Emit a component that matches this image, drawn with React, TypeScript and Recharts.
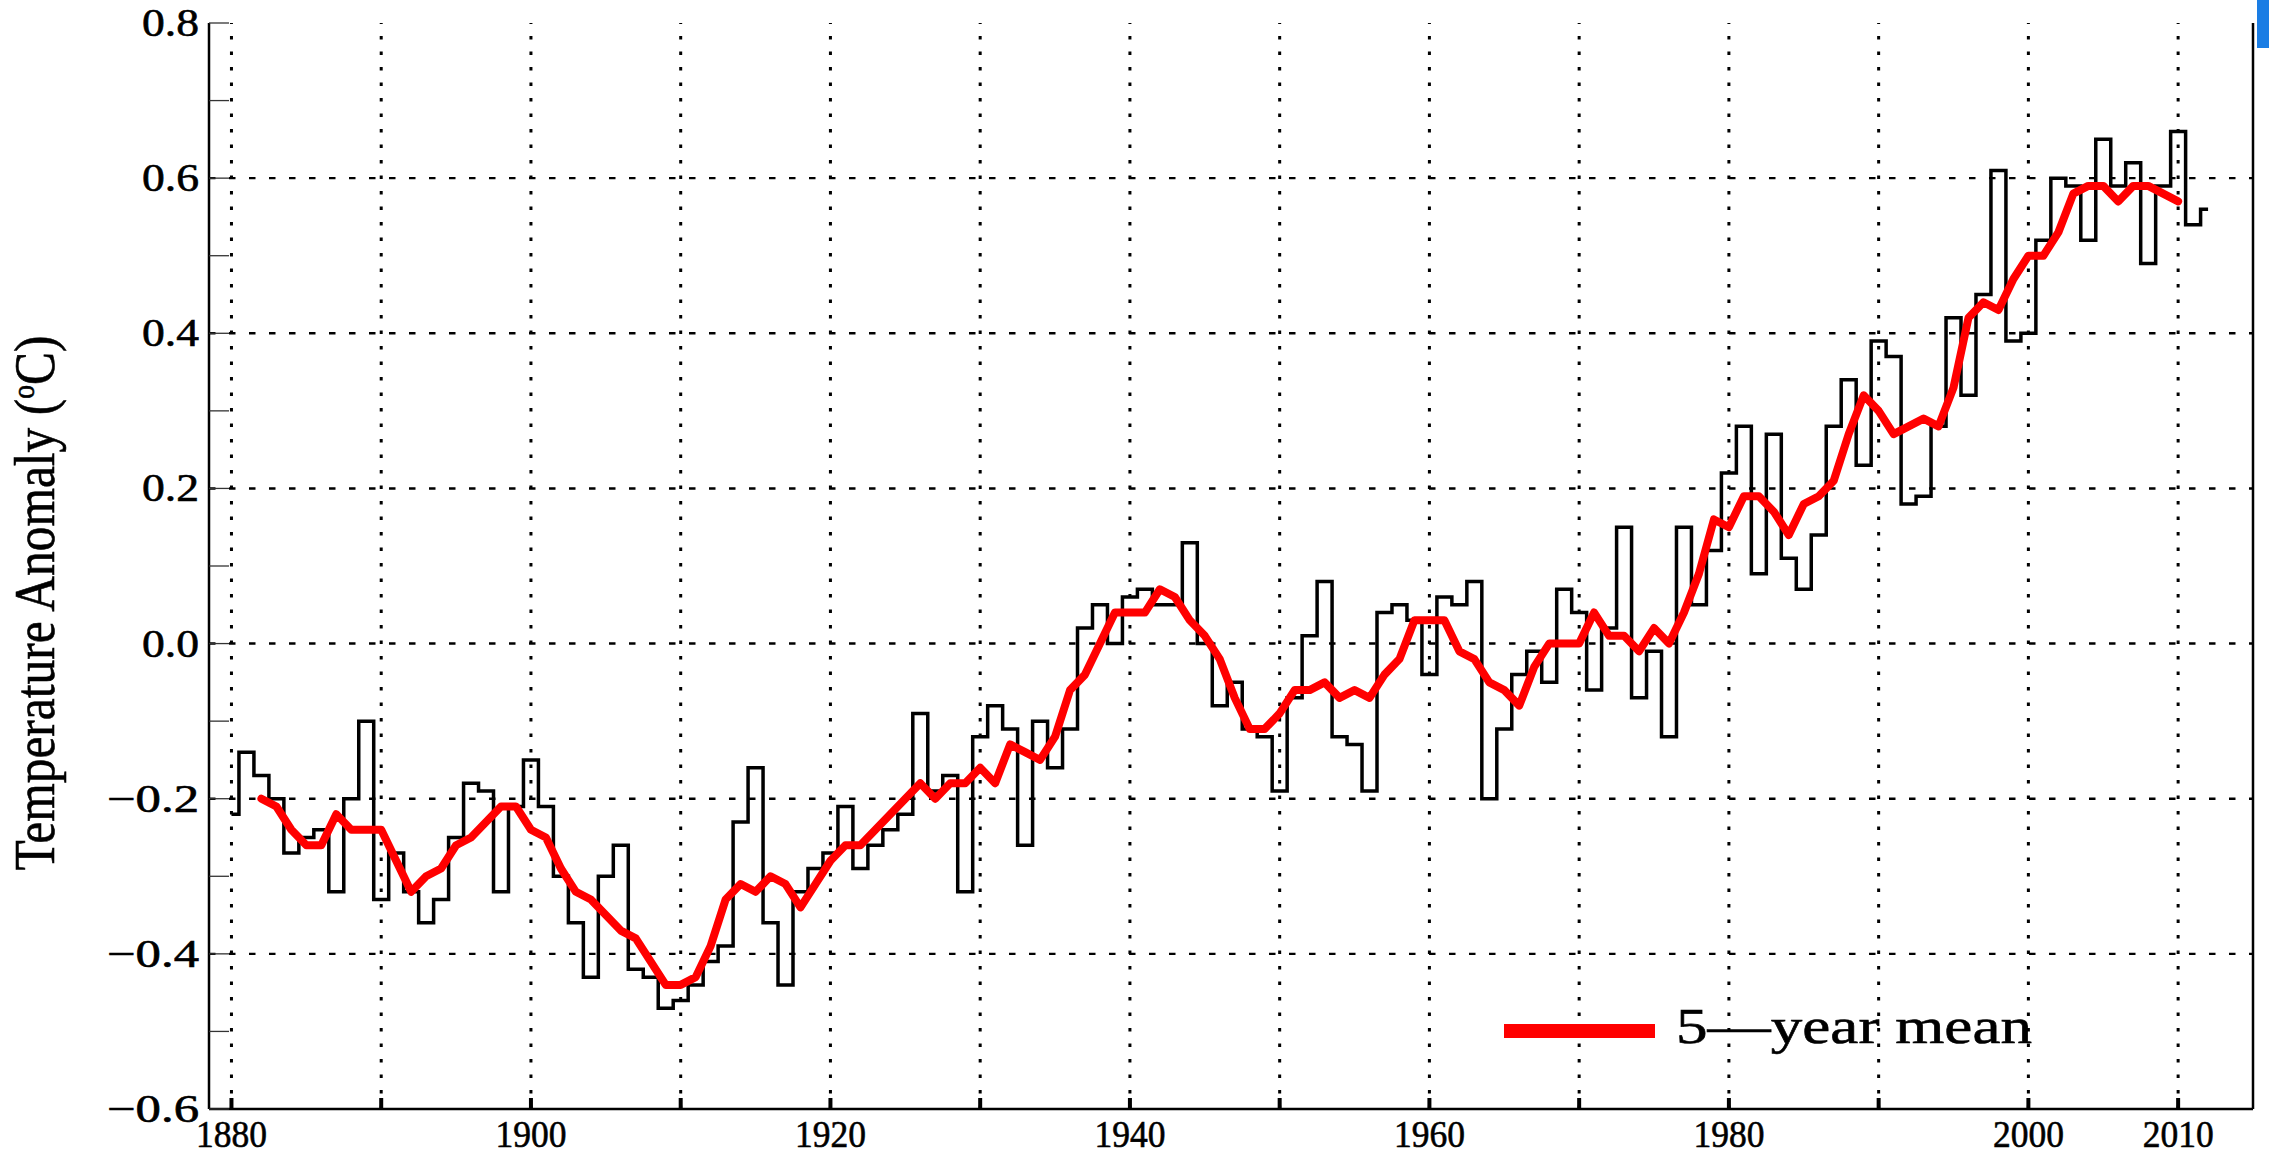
import React from "react";
import { ComposedChart, Line, XAxis, YAxis, ReferenceLine, Legend, Label } from "recharts";

// Annual global temperature anomaly, 1880-2012 (°C)
const FIRST_YEAR = 1880;
const ANNUAL = [
  -0.22, -0.14, -0.17, -0.2, -0.27, -0.25, -0.24, -0.32, -0.2, -0.1,
  -0.33, -0.27, -0.32, -0.36, -0.33, -0.25, -0.18, -0.19, -0.32, -0.21,
  -0.15, -0.21, -0.3, -0.36, -0.43, -0.3, -0.26, -0.42, -0.43, -0.47,
  -0.46, -0.44, -0.41, -0.39, -0.23, -0.16, -0.36, -0.44, -0.32, -0.29,
  -0.27, -0.21, -0.29, -0.26, -0.24, -0.22, -0.09, -0.19, -0.17, -0.32,
  -0.12, -0.08, -0.11, -0.26, -0.1, -0.16, -0.11, 0.02, 0.05, 0.0,
  0.06, 0.07, 0.05, 0.05, 0.13, 0.0, -0.08, -0.05, -0.11, -0.12,
  -0.19, -0.07, 0.01, 0.08, -0.12, -0.13, -0.19, 0.04, 0.05, 0.03,
  -0.04, 0.06, 0.05, 0.08, -0.2, -0.11, -0.04, -0.01, -0.05, 0.07,
  0.04, -0.06, 0.02, 0.15, -0.07, -0.01, -0.12, 0.15, 0.05, 0.12,
  0.22, 0.28, 0.09, 0.27, 0.11, 0.07, 0.14, 0.28, 0.34, 0.23,
  0.39, 0.37, 0.18, 0.19, 0.28, 0.42, 0.32, 0.45, 0.61, 0.39,
  0.4, 0.52, 0.6, 0.59, 0.52, 0.65, 0.59, 0.62, 0.49, 0.59,
  0.66, 0.54, 0.56,
];

// centred 5-year running mean, 1882-2010
const MEAN_FIRST_YEAR = 1882;
const MEAN_5YR = [
  -0.2, -0.21, -0.24, -0.26, -0.26, -0.22, -0.24, -0.24,
  -0.24, -0.28, -0.32, -0.3, -0.29, -0.26, -0.25, -0.23, -0.21, -0.21,
  -0.24, -0.25, -0.29, -0.32, -0.33, -0.35, -0.37, -0.38, -0.41, -0.44,
  -0.44, -0.43, -0.39, -0.33, -0.31, -0.32, -0.3, -0.31, -0.34, -0.31,
  -0.28, -0.26, -0.26, -0.24, -0.22, -0.2, -0.18, -0.2, -0.18, -0.18,
  -0.16, -0.18, -0.13, -0.14, -0.15, -0.12, -0.06, -0.04, 0.0, 0.04,
  0.04, 0.04, 0.07, 0.06, 0.03, 0.01, -0.02, -0.07, -0.11, -0.11,
  -0.09, -0.06, -0.06, -0.05, -0.07, -0.06, -0.07, -0.04, -0.02, 0.03,
  0.03, 0.03, -0.01, -0.02, -0.05, -0.06, -0.08, -0.03, 0.0, 0.0,
  0.0, 0.04, 0.01, 0.01, -0.01, 0.02, 0.0, 0.04, 0.09, 0.16,
  0.15, 0.19, 0.19, 0.17, 0.14, 0.18, 0.19, 0.21, 0.27, 0.32,
  0.3, 0.27, 0.28, 0.29, 0.28, 0.33, 0.42, 0.44, 0.43, 0.47,
  0.5, 0.5, 0.53, 0.58, 0.59, 0.59, 0.57, 0.59, 0.59, 0.58,
  0.57,
];

const YEAR_TICKS = [1880, 1890, 1900, 1910, 1920, 1930, 1940, 1950, 1960, 1970, 1980, 1990, 2000, 2010];
const YEAR_LABELS = [1880, 1900, 1920, 1940, 1960, 1980, 2000, 2010];
const Y_TICKS = [-0.6, -0.5, -0.4, -0.3, -0.2, -0.1, 0, 0.1, 0.2, 0.3, 0.4, 0.5, 0.6, 0.7, 0.8];
const Y_LABELS = [-0.6, -0.4, -0.2, 0, 0.2, 0.4, 0.6, 0.8];
const Y_GRID = [-0.4, -0.2, 0, 0.2, 0.4, 0.6];

const rows = ANNUAL.map((v, i) => {
  const year = FIRST_YEAR + i;
  const m = MEAN_5YR[year - MEAN_FIRST_YEAR];
  return { year, anomaly: v, mean: m === undefined ? null : m };
});

const SERIF = "'Liberation Serif', 'DejaVu Serif', serif";
// a hairline outline thickens the glyphs a little
const TEXT_STYLE = { fontFamily: SERIF, fill: "#000", stroke: "#000", strokeWidth: 0.6 };

const fmtY = (v: number) => (v < -1e-9 ? "\u2212" : "") + Math.abs(v).toFixed(1);
const isLabelled = (list: number[], v: number) => list.some((l) => Math.abs(l - v) < 1e-6);

function YTickText(props: any) {
  const { payload } = props;
  if (!isLabelled(Y_LABELS, payload.value)) return <g />;
  const neg = payload.value < -1e-9;
  return (
    <text
      {...TEXT_STYLE}
      x={199}
      y={payload.coordinate}
      dy={13}
      textAnchor="end"
      fontSize={39}
      textLength={neg ? 92 : 57}
      lengthAdjust="spacingAndGlyphs"
    >
      {fmtY(payload.value)}
    </text>
  );
}

function XTickText(props: any) {
  const { payload } = props;
  if (!YEAR_LABELS.includes(payload.value)) return <g />;
  return (
    <text
      {...TEXT_STYLE}
      x={payload.coordinate}
      y={1147}
      textAnchor="middle"
      fontSize={38}
      textLength={71}
      lengthAdjust="spacingAndGlyphs"
    >
      {payload.value}
    </text>
  );
}

function YTitle() {
  return (
    <text
      {...TEXT_STYLE}
      transform="translate(54, 603) rotate(-90)"
      textAnchor="middle"
      fontSize={57}
      textLength={535}
      lengthAdjust="spacingAndGlyphs"
    >
      Temperature Anomaly (
      <tspan dy={-20} fontSize={32}>o</tspan>
      <tspan dy={20}>C)</tspan>
    </text>
  );
}

function MeanKey({ payload }: any) {
  const item = (payload || []).find((p: any) => p.dataKey === "mean");
  if (!item) return null;
  return (
    <svg width={560} height={70} style={{ overflow: "visible" }}>
      <rect x={4} y={24} width={151} height={14} fill={item.color} />
      <text
        {...TEXT_STYLE}
        x={176}
        y={43}
        fontSize={51}
        textLength={356}
        lengthAdjust="spacingAndGlyphs"
      >
        {item.value}
      </text>
    </svg>
  );
}

export default function App() {
  return (
    <div style={{ position: "absolute", left: 0, top: 0, width: 2269, height: 1158, background: "#fff" }}>
      <ComposedChart
        width={2269}
        height={1158}
        data={rows}
        margin={{ top: 23, right: 15, bottom: 0, left: 0 }}
      >
        <XAxis
          dataKey="year"
          type="number"
          domain={[1878.5, 2015]}
          ticks={YEAR_TICKS}
          interval={0}
          allowDataOverflow
          height={49}
          axisLine={{ stroke: "#000", strokeWidth: 2.5 }}
          tickLine={{ stroke: "#000", strokeWidth: 4 }}
          tickSize={-11}
          tick={<XTickText />}
        />
        <XAxis
          xAxisId="top"
          orientation="top"
          dataKey="year"
          type="number"
          domain={[1878.5, 2015]}
          ticks={YEAR_TICKS}
          interval={0}
          allowDataOverflow
          height={0}
          axisLine={{ stroke: "#000", strokeWidth: 2.5 }}
          tickLine={{ stroke: "#000", strokeWidth: 4 }}
          tickSize={-11}
          tick={false}
        />
        <YAxis
          type="number"
          domain={[-0.6, 0.8]}
          ticks={Y_TICKS}
          interval={0}
          allowDataOverflow
          width={209}
          axisLine={{ stroke: "#000", strokeWidth: 2.5 }}
          tickLine={{ stroke: "#333", strokeWidth: 1.3 }}
          tickSize={-20}
          tick={<YTickText />}
        >
          <Label content={<YTitle />} />
        </YAxis>
        <YAxis
          yAxisId="right"
          orientation="right"
          type="number"
          domain={[-0.6, 0.8]}
          ticks={Y_TICKS}
          interval={0}
          allowDataOverflow
          width={1}
          axisLine={{ stroke: "#000", strokeWidth: 2.5 }}
          tickLine={{ stroke: "#333", strokeWidth: 1.3 }}
          tickSize={-20}
          tick={false}
        />

        {YEAR_TICKS.map((yr) => (
          <ReferenceLine key={`vx${yr}`} x={yr} stroke="#000" strokeWidth={3} strokeDasharray="3.5 12" />
        ))}
        {Y_GRID.map((v) => (
          <ReferenceLine key={`hy${v}`} y={v} stroke="#000" strokeWidth={2.4} strokeDasharray="6.5 13.5" />
        ))}

        <Line
          dataKey="anomaly"
          type="step"
          stroke="#000"
          strokeWidth={3.5}
          strokeLinejoin="miter"
          dot={false}
          activeDot={false}
          legendType="none"
          isAnimationActive={false}
        />
        <Line
          dataKey="mean"
          name={"5\u2014year mean"}
          type="linear"
          stroke="#ff0000"
          strokeWidth={8}
          strokeLinejoin="round"
          strokeLinecap="round"
          dot={false}
          activeDot={false}
          isAnimationActive={false}
        />
        <Legend
          layout="horizontal"
          verticalAlign="middle"
          align="center"
          wrapperStyle={{ left: 1500, top: 1000, width: 560, height: 70 }}
          content={<MeanKey />}
        />
      </ComposedChart>
      <div style={{ position: "absolute", left: 2257, top: 0, width: 12, height: 48, background: "#1a7de4" }} />
    </div>
  );
}
